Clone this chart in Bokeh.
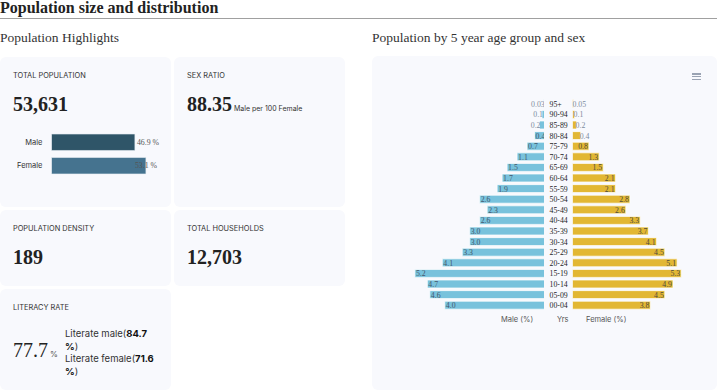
from bokeh.plotting import figure
from bokeh.models import Div, Spacer, Range1d, FactorRange, ColumnDataSource
from bokeh.layouts import column, row
from bokeh.embed import file_html
from bokeh.resources import INLINE
from bokeh.core.properties import value

# ---------------- data ----------------
age_groups = ["95+", "90-94", "85-89", "80-84", "75-79", "70-74", "65-69", "60-64",
              "55-59", "50-54", "45-49", "40-44", "35-39", "30-34", "25-29", "20-24",
              "15-19", "10-14", "05-09", "00-04"]
male_pct = [0.03, 0.1, 0.2, 0.4, 0.7, 1.1, 1.5, 1.7, 1.9, 2.6, 2.3, 2.6, 3.0, 3.0,
            3.3, 4.1, 5.2, 4.7, 4.6, 4.0]
female_pct = [0.05, 0.1, 0.2, 0.4, 0.8, 1.3, 1.5, 2.1, 2.1, 2.8, 2.6, 3.3, 3.7, 4.1,
              4.5, 5.1, 5.3, 4.9, 4.5, 3.8]
sex_labels = ["Male", "Female"]
sex_share = [46.9, 53.1]
total_population = "53,631"
sex_ratio = "88.35"
population_density = "189"
total_households = "12,703"
literacy_rate = "77.7"
literate_male = "84.7"
literate_female = "71.6"

# ---------------- styles ----------------
CARD = "#f8f9fd"
SERIF = "Liberation Serif"
SANS = "Inter"
MALE_C = "#78c2dc"
FEMALE_C = "#e2b733"
CW = 171  # card width


def fmt(v):
    return f"{v:.2f}" if v < 0.1 else f"{v:.1f}"


def label_html(t):
    return (f'<div style="position:absolute;left:13px;top:13px;font-family:{SANS};'
            f'font-size:7.4px;line-height:11px;color:#333;white-space:nowrap">{t}</div>')


def number_html(t, extra=""):
    return (f'<div style="position:absolute;left:13px;top:37px;white-space:nowrap;line-height:20px">'
            f'<span style="font-family:{SERIF};font-weight:bold;font-size:20px;color:#222">{t}</span>{extra}</div>')


def card_div(inner, w, h, bg=True):
    st = {"background-color": CARD, "border-radius": "6px"} if bg else {}
    return Div(text=f'<div style="position:relative;width:{w}px;height:{h}px">{inner}</div>',
               width=w, height=h, margin=0, styles=st)


def base_fig(w, h, xr, yr, **kw):
    p = figure(width=w, height=h, x_range=xr, y_range=yr, toolbar_location=None,
               output_backend="svg", **kw)
    p.background_fill_color = CARD
    p.border_fill_color = CARD
    p.outline_line_color = None
    p.grid.visible = False
    return p


# ---------------- header ----------------
title_div = Div(text=(f'<div style="font-family:{SERIF};font-weight:bold;font-size:16px;line-height:16px;'
                      f'color:#222;white-space:nowrap">Population size and distribution</div>'),
                width=717, height=18, margin=0)
rule = Div(text="", width=717, height=1, margin=0, styles={"background-color": "#a0a0a0"})

highlights_div = Div(text=(f'<div style="position:relative;top:11px;font-family:{SERIF};font-size:13.5px;'
                           f'line-height:14px;color:#333;white-space:nowrap">Population Highlights</div>'),
                     width=345, height=38, margin=0)

# ---------------- card 1: total population + sex split ----------------
c1_top = card_div(label_html("TOTAL POPULATION") + number_html(total_population), CW, 73, bg=False)
p_sex = base_fig(CW, 77, Range1d(0, 61.3), FactorRange(factors=sex_labels[::-1]),
                 x_axis_location=None, min_border_left=51, min_border_right=11,
                 min_border_top=0, min_border_bottom=30)
sex_src = ColumnDataSource(dict(y=sex_labels, v=sex_share,
                                txt=[f"{v} %" for v in sex_share],
                                col=["#2f5568", "#45738f"], dx=[2, -11]))
p_sex.hbar(y="y", left=0, right="v", height=0.7, fill_color="col", line_color="#e8eef4",
           line_width=0.6, source=sex_src)
p_sex.text(x="v", y="y", text="txt", x_offset="dx", text_align="left", text_baseline="middle",
           text_font=value(SERIF), text_font_size="7.8px", text_color="#555", source=sex_src)
ya = p_sex.yaxis[0]
ya.axis_line_color = None
ya.major_tick_line_color = None
ya.minor_tick_line_color = None
ya.major_tick_in = 0
ya.major_tick_out = 0
ya.major_label_standoff = 9
ya.major_label_text_font = SANS
ya.major_label_text_font_size = "7.5px"
ya.major_label_text_color = "#333"
card1 = column(c1_top, p_sex, styles={"background-color": CARD, "border-radius": "6px", "overflow": "hidden"})

# ---------------- other cards ----------------
small = (f'<span style="font-family:{SANS};font-size:7px;color:#333;margin-left:2px">'
         f'Male per 100 Female</span>')
card2 = card_div(label_html("SEX RATIO") + number_html(sex_ratio, small), CW, 150)
card3 = card_div(label_html("POPULATION DENSITY") + number_html(population_density), CW, 76)
card4 = card_div(label_html("TOTAL HOUSEHOLDS") + number_html(total_households), CW, 76)

lit_num = (f'<div style="position:absolute;left:13px;top:51px;white-space:nowrap;line-height:20px">'
           f'<span style="font-family:{SERIF};font-size:20px;color:#222">{literacy_rate}</span>'
           f'<span style="font-family:{SANS};font-size:8px;color:#555;margin-left:2px">%</span></div>')
lit_txt = (f'<div style="position:absolute;left:65px;top:39px;font-family:{SANS};font-size:9.5px;'
           f'line-height:12.5px;color:#333;white-space:nowrap">'
           f'Literate male(<b style="color:#111">{literate_male}</b><br><b style="color:#111">%</b>)<br>'
           f'Literate female(<b style="color:#111">{literate_female}</b><br><b style="color:#111">%</b>)</div>')
card5 = card_div(label_html("LITERACY RATE") + lit_num + lit_txt, CW, 101)

left_col = column(
    highlights_div,
    row(card1, Spacer(width=3, height=150), card2),
    Spacer(width=345, height=3),
    row(card3, Spacer(width=3, height=76), card4),
    Spacer(width=345, height=3),
    card5,
)

# ---------------- pyramid ----------------
yr = FactorRange(factors=age_groups[::-1])
common = dict(x_axis_location=None, y_axis_location=None, min_border_left=0, min_border_right=0,
              min_border_top=0, min_border_bottom=0)

pm = base_fig(172, 212, Range1d(6.9, 0), yr, **common)
pc = base_fig(28, 212, Range1d(0, 28), yr, **common)
pf = base_fig(145, 212, Range1d(0, 7.07), yr, **common)

pm.hbar(y=age_groups, left=0, right=male_pct, height=0.75, fill_color=MALE_C,
        line_color="white", line_width=0.7)
pf.hbar(y=age_groups, left=0, right=female_pct, height=0.75, fill_color=FEMALE_C,
        line_color="white", line_width=0.7)

m_in = [i for i, v in enumerate(male_pct) if v >= 0.36]
m_out = [i for i, v in enumerate(male_pct) if v < 0.36]
f_in = [i for i, v in enumerate(female_pct) if v >= 0.6]
f_out = [i for i, v in enumerate(female_pct) if v < 0.6]


def sub(idx, vals):
    return ColumnDataSource(dict(y=[age_groups[i] for i in idx], v=[vals[i] for i in idx],
                                 t=[fmt(vals[i]) for i in idx]))


for fig, src, align, dx, col in [
    (pm, sub(m_in, male_pct), "left", 1, "#44586c"),
    (pm, sub(m_out, male_pct), "right", 1, "#7d8ba0"),
    (pf, sub(f_in, female_pct), "right", -1, "#4f4a3c"),
    (pf, sub(f_out, female_pct), "left", -1, "#7d8ba0"),
]:
    fig.text(x="v", y="y", text="t", x_offset=dx, text_align=align, text_baseline="middle",
             text_font=value(SERIF), text_font_size="7.8px", text_color=col, source=src)

pc.text(x=[0] * len(age_groups), y=age_groups, text=age_groups, x_offset=5, text_align="left",
        text_baseline="middle", text_font=value(SERIF), text_font_size="7.8px", text_color="#1e1e1e")

hamb = ''.join(f'<div style="position:absolute;left:320px;top:{t}px;width:9px;height:1.4px;'
               f'background:#9aa3b3"></div>' for t in (17.3, 19.9, 22.5))
top_div = card_div(hamb, 345, 42, bg=False)

ax_html = ''.join(
    f'<span style="position:absolute;left:{x}px;top:5px;line-height:10px;white-space:nowrap">{t}</span>'
    for x, t in ((129, "Male (%)"), (185, "Yrs"), (214, "Female (%)")))
axis_div = Div(text=(f'<div style="position:relative;width:345px;height:20px;font-family:{SANS};'
                     f'font-size:7.5px;color:#555">{ax_html}</div>'),
               width=345, height=20, margin=0)

right_card = column(top_div, row(pm, pc, pf), axis_div, Spacer(width=345, height=60),
                    styles={"background-color": CARD, "border-radius": "6px", "overflow": "hidden"})

right_title = Div(text=(f'<div style="position:relative;top:11px;font-family:{SERIF};font-size:13.5px;'
                        f'line-height:14px;color:#333;white-space:nowrap">'
                        f'Population by 5 year age group and sex</div>'),
                  width=345, height=37, margin=0)
right_col = column(right_title, right_card)

root = column(title_div, rule, row(left_col, Spacer(width=27, height=371), right_col))

open("out.html", "w").write(file_html(root, INLINE))
